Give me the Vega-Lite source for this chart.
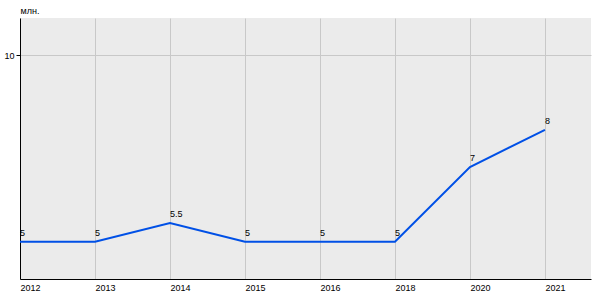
{
  "$schema": "https://vega.github.io/schema/vega-lite/v6.json",
  "width": 571,
  "height": 261,
  "autosize": {"type": "none"},
  "padding": {"left": 20, "top": 18, "right": 9, "bottom": 21},
  "background": "white",
  "config": {
    "view": {"fill": "#EBEBEB", "stroke": null},
    "font": "Liberation Sans"
  },
  "data": {
    "values": [
      {"year": "2012", "value": 5, "label": "5"},
      {"year": "2013", "value": 5, "label": "5"},
      {"year": "2014", "value": 5.5, "label": "5.5"},
      {"year": "2015", "value": 5, "label": "5"},
      {"year": "2016", "value": 5, "label": "5"},
      {"year": "2018", "value": 5, "label": "5"},
      {"year": "2020", "value": 7, "label": "7"},
      {"year": "2021", "value": 8, "label": "8"}
    ]
  },
  "encoding": {
    "x": {
      "field": "year",
      "type": "ordinal",
      "sort": null,
      "scale": {"type": "point", "padding": 0.307, "align": 0},
      "axis": {
        "title": null,
        "labelAngle": 0,
        "labelAlign": "left",
        "labelFontSize": 9,
        "labelColor": "#000",
        "labelPadding": 4,
        "ticks": false,
        "domainColor": "#000",
        "domainWidth": 1,
        "grid": true,
        "gridColor": "#C8C8C8",
        "gridWidth": 1
      }
    },
    "y": {
      "field": "value",
      "type": "quantitative",
      "scale": {"domain": [4, 11], "nice": false, "zero": false},
      "axis": {
        "values": [10],
        "title": "млн.",
        "titleAngle": 0,
        "titleAlign": "left",
        "titleBaseline": "bottom",
        "titleX": 0,
        "titleY": -3,
        "titleFontSize": 9,
        "titleFontWeight": "normal",
        "titleColor": "#000",
        "labelFontSize": 9,
        "labelColor": "#000",
        "tickColor": "#000",
        "tickSize": 4,
        "labelPadding": 2,
        "domainColor": "#000",
        "grid": true,
        "gridColor": "#C8C8C8"
      }
    }
  },
  "layer": [
    {
      "mark": {"type": "line", "color": "#0050E6", "strokeWidth": 2}
    },
    {
      "mark": {"type": "text", "align": "left", "baseline": "bottom", "dy": -4, "fontSize": 9, "color": "#000"},
      "encoding": {"text": {"field": "label"}}
    }
  ]
}
